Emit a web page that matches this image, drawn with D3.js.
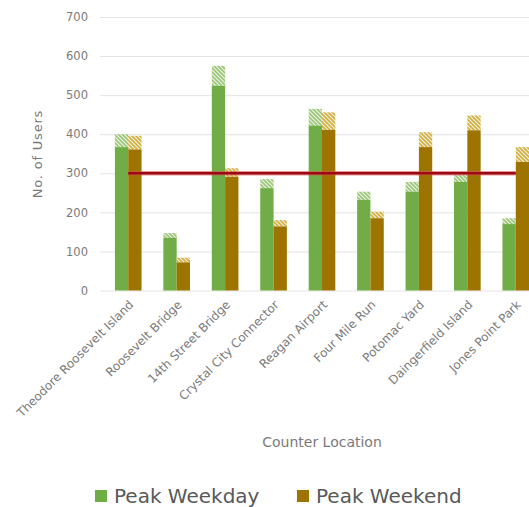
<!DOCTYPE html>
<html><head><meta charset="utf-8">
<script src="https://cdnjs.cloudflare.com/ajax/libs/d3/7.8.5/d3.min.js"></script>
<style>
html,body{margin:0;padding:0;background:#fff;overflow:hidden}
text{font-family:"DejaVu Sans",sans-serif}
</style></head>
<body><svg id="c" width="529" height="507"></svg>
<script>
const categories = ["Theodore Roosevelt Island","Roosevelt Bridge","14th Street Bridge","Crystal City Connector","Reagan Airport","Four Mile Run","Potomac Yard","Daingerfield Island","Jones Point Park"];
const weekdayBase = [367,135,524,262,422,232,253,278,170];
const weekdayTop  = [400,147,575,285,465,253,278,295,185];
const weekendBase = [361,72,291,164,411,185,367,410,329];
const weekendTop  = [396,84,313,180,456,202,405,448,367];
const threshold = 300;
const yTicks = [0,100,200,300,400,500,600,700];
const seriesNames = ["Peak Weekday","Peak Weekend"];
const seriesColors = ["#70AD47","#9E7400"];
const hatchColors = ["#98c878","#d4b040"];

const svg = d3.select("#c");
const defs = svg.append("defs");
["hatchG","hatchB"].forEach((id,i)=>{
  const p = defs.append("pattern").attr("id",id).attr("patternUnits","userSpaceOnUse")
    .attr("width",4).attr("height",4);
  p.append("rect").attr("width",4).attr("height",4).attr("fill","#f2f2e4");
  p.append("path").attr("d","M-1,-1 L5,5 M-1,3 L1,5 M3,-1 L5,1")
    .attr("stroke",hatchColors[i]).attr("stroke-width",1.7);
});

const x = d3.scaleBand().domain(categories).range([104,540]).paddingInner(0.45).paddingOuter(0.225);
const xs = d3.scaleBand().domain([0,1]).range([0,x.bandwidth()]);
const y = d3.scaleLinear().domain([0,700]).range([290.5,17]);

// gridlines + y ticks
const yAxis = d3.axisLeft(y).tickValues(yTicks).tickSize(-(540-100)).tickPadding(12);
const ga = svg.append("g").attr("transform","translate(100,0)").call(yAxis);
ga.select(".domain").remove();
ga.selectAll(".tick line").attr("stroke","#e3e3e3").attr("stroke-width",1);
ga.selectAll(".tick text").attr("fill","#7a7a7a").style("font-size","11.5px")
  .style("font-family","'DejaVu Sans',sans-serif");

const baseVals = [weekdayBase, weekendBase];
const topVals = [weekdayTop, weekendTop];
const hatch = ["url(#hatchG)","url(#hatchB)"];
categories.forEach((c,i)=>{
  [0,1].forEach(s=>{
    const x0 = x(c)+xs(s), w = xs.bandwidth();
    svg.append("rect").attr("x",x0).attr("width",w)
      .attr("y",y(topVals[s][i])).attr("height",y(baseVals[s][i])-y(topVals[s][i]))
      .attr("fill",hatch[s]);
    svg.append("rect").attr("x",x0).attr("width",w)
      .attr("y",y(baseVals[s][i])).attr("height",y(0)-y(baseVals[s][i]))
      .attr("fill",seriesColors[s]);
  });
});

// threshold line
const xc = c => x(c)+x.bandwidth()/2;
svg.append("line").attr("x1",xc(categories[0])).attr("x2",xc(categories[categories.length-1]))
  .attr("y1",y(threshold)).attr("y2",y(threshold))
  .attr("stroke","#e05050").attr("stroke-width",4.5).attr("opacity",0.6);
svg.append("line").attr("x1",xc(categories[0])).attr("x2",xc(categories[categories.length-1]))
  .attr("y1",y(threshold)).attr("y2",y(threshold))
  .attr("stroke","#9a0a14").attr("stroke-width",2.6);

// x labels
const xAxis = d3.axisBottom(x).tickSize(0).tickPadding(0);
const gx = svg.append("g").attr("transform","translate(0,290.5)").call(xAxis);
gx.select(".domain").remove();
gx.selectAll(".tick text")
  .attr("text-anchor","end").attr("fill","#7a7a7a").style("font-size","12px")
  .style("font-family","'DejaVu Sans',sans-serif")
  .attr("transform","translate(3,12) rotate(-45)").attr("dy","0.35em").attr("y",0);

// axis titles
svg.append("text").attr("transform","translate(42,154) rotate(-90)").attr("text-anchor","middle")
  .attr("fill","#7a7a7a").style("font-size","13px").style("letter-spacing","0.8px").text("No. of Users");
svg.append("text").attr("x",322).attr("y",447).attr("text-anchor","middle")
  .attr("fill","#7a7a7a").style("font-size","14px").text("Counter Location");

// legend
const lx = [95,297];
seriesNames.forEach((n,i)=>{
  svg.append("rect").attr("x",lx[i]).attr("y",490).attr("width",12).attr("height",12).attr("fill",seriesColors[i]);
  svg.append("text").attr("x",lx[i]+19).attr("y",503).attr("fill","#595959")
    .style("font-size","20px").text(n);
});
</script></body></html>
